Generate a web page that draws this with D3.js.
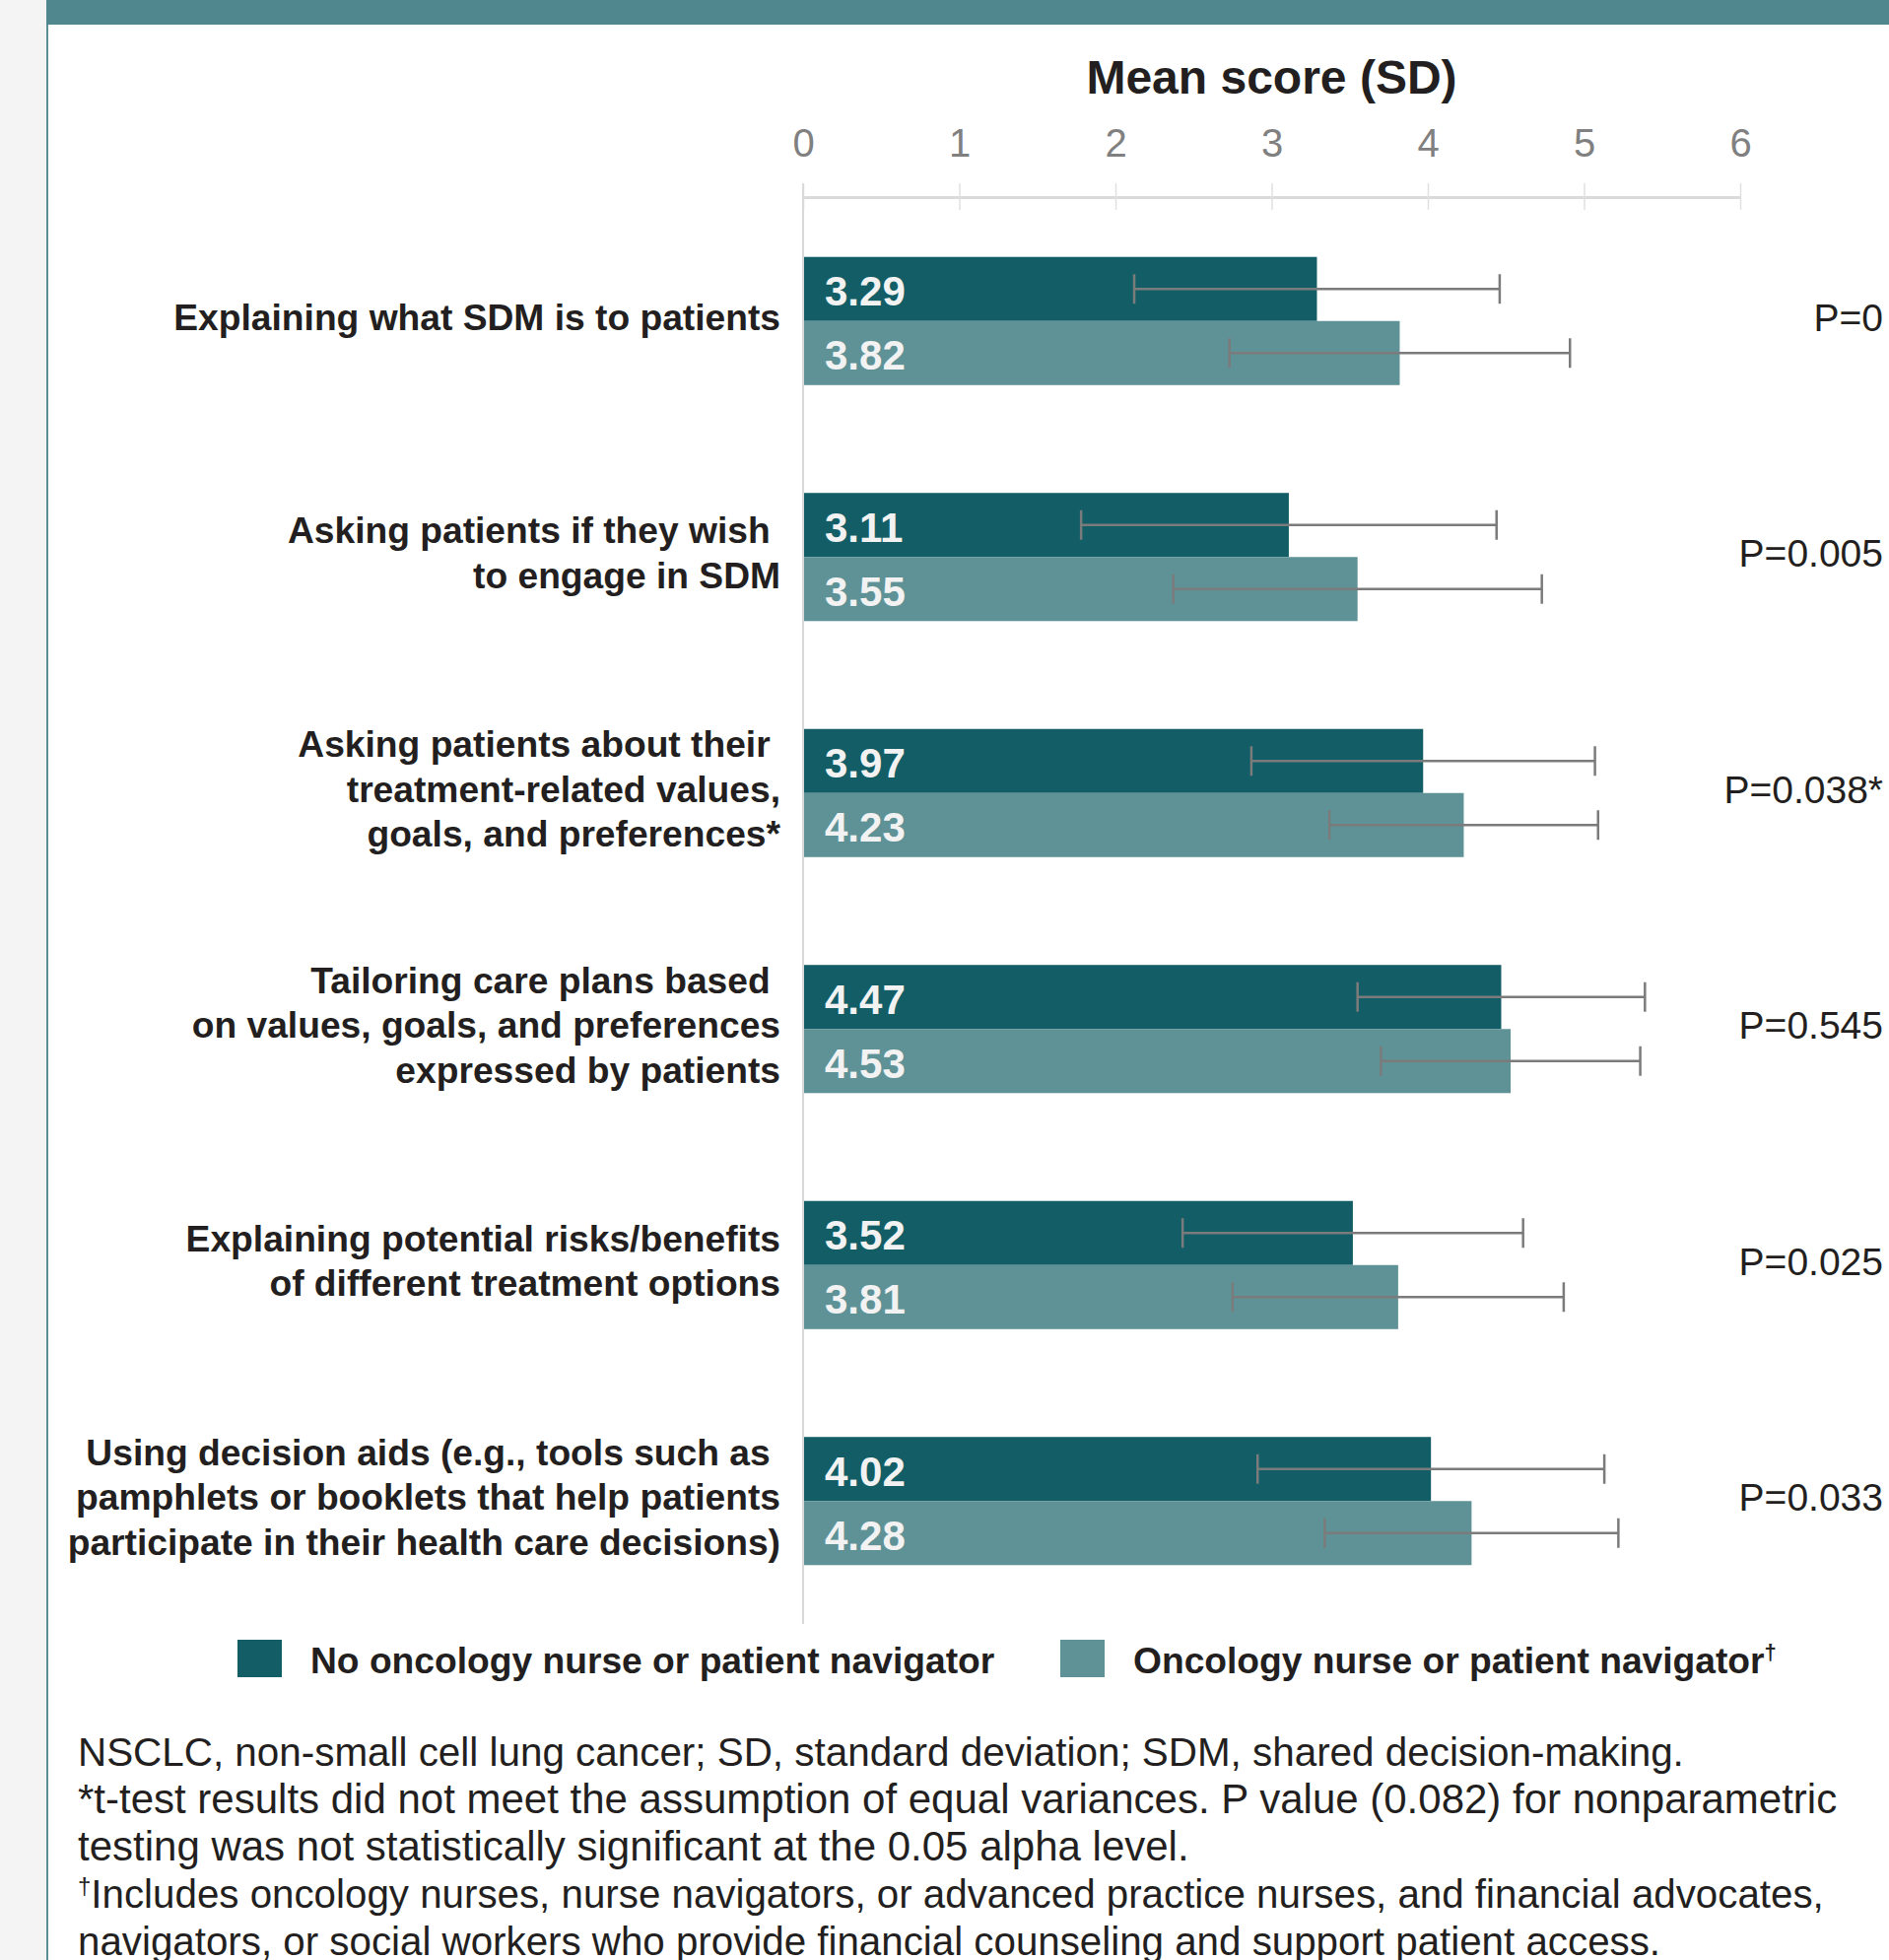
<!DOCTYPE html>
<meta charset="utf-8">
<style>
  body { margin: 0; background: #ffffff; }
  text { font-family: "Liberation Sans", Arial, Helvetica, sans-serif; }
</style>
<body>
<div id="chart"></div>
<script src="https://d3js.org/d3.v7.min.js"></script>
<script>

// Categories (one per row), the label is split in lines as in the figure
var categories = ["explain", "ask", "values", "tailor", "risks", "aids"];
var labelLines = [
  ["Explaining what SDM is to patients"],
  ["Asking patients if they wish\u00a0", "to engage in SDM"],
  ["Asking patients about their\u00a0", "treatment-related values,", "goals, and preferences*"],
  ["Tailoring care plans based\u00a0", "on values, goals, and preferences", "expressed by patients"],
  ["Explaining potential risks/benefits", "of different treatment options"],
  ["Using decision aids (e.g., tools such as\u00a0", "pamphlets or booklets that help patients", "participate in their health care decisions)"]
];

// Mean score and SD per series
var noNurseMean = [3.29, 3.11, 3.97, 4.47, 3.52, 4.02];
var noNurseSD   = [1.17, 1.33, 1.10, 0.92, 1.09, 1.11];
var nurseMean   = [3.82, 3.55, 4.23, 4.53, 3.81, 4.28];
var nurseSD     = [1.09, 1.18, 0.86, 0.83, 1.06, 0.94];

var pValues = ["P=0", "P=0.005", "P=0.038*", "P=0.545", "P=0.025", "P=0.033"];
var xTicks = [0, 1, 2, 3, 4, 5, 6];
var seriesNames = ["No oncology nurse or patient navigator", "Oncology nurse or patient navigator"];
var seriesColors = ["#135e66", "#5f9297"];

var footnotes = [
  "NSCLC, non-small cell lung cancer; SD, standard deviation; SDM, shared decision-making.",
  "*t-test results did not meet the assumption of equal variances. P value (0.082) for nonparametric",
  "testing was not statistically significant at the 0.05 alpha level.",
  "\u2020Includes oncology nurses, nurse navigators, or advanced practice nurses, and financial advocates,",
  "navigators, or social workers who provide financial counseling and support patient access."
];
var footnoteSizes = [40.4, 42, 42, 40.3, 40.3];

var W = 1917, H = 1989;
var ink = "#231f20";

var svg = d3.select("#chart")
  .append("svg")
    .attr("width", W)
    .attr("height", H);

// page frame: gray strip, teal border and top band
svg.append("rect").attr("x", 0).attr("y", 0).attr("width", 47).attr("height", H).attr("fill", "#f4f4f4");
svg.append("rect").attr("x", 47).attr("y", 0).attr("width", 2).attr("height", H).attr("fill", "#5b8f95");
svg.append("rect").attr("x", 47).attr("y", 0).attr("width", W - 47).attr("height", 25).attr("fill", "#50868d");

// scales
var x = d3.scaleLinear()
  .domain([0, 6])
  .range([815, 1766]);

var y = d3.scaleBand()
  .domain(categories)
  .range([206, 1643])
  .paddingInner(0.457)
  .paddingOuter(0.2285);

var ySub = d3.scaleBand()
  .domain([0, 1])
  .range([0, y.bandwidth()]);

// title
svg.append("text")
  .attr("x", (x(0) + x(6)) / 2)
  .attr("y", 95)
  .attr("text-anchor", "middle")
  .attr("font-size", 48)
  .attr("font-weight", "bold")
  .attr("fill", ink)
  .text("Mean score (SD)");

// top axis
var axis = svg.append("g")
  .attr("transform", "translate(0,200)")
  .call(d3.axisTop(x).tickValues(xTicks).tickFormat(d3.format("d"))
    .tickSizeOuter(0).tickSizeInner(0).tickPadding(41));
axis.select(".domain").attr("stroke", "#dadada").attr("stroke-width", 3);
axis.selectAll(".tick line").attr("y1", -14).attr("y2", 13).attr("stroke", "#e0e0e0").attr("stroke-width", 1.5);
axis.selectAll(".tick text")
  .attr("font-size", 40)
  .attr("font-family", "'Liberation Sans', Arial, sans-serif")
  .attr("fill", "#808080");

// vertical baseline at 0
svg.append("line")
  .attr("x1", x(0)).attr("x2", x(0))
  .attr("y1", 186).attr("y2", y.range()[1] + 5)
  .attr("stroke", "#dadada")
  .attr("stroke-width", 2);

// build rows
var rows = categories.map(function(c, i) {
  return {
    key: c,
    lines: labelLines[i],
    p: pValues[i],
    bars: [
      { s: 0, mean: noNurseMean[i], sd: noNurseSD[i] },
      { s: 1, mean: nurseMean[i], sd: nurseSD[i] }
    ]
  };
});

var row = svg.selectAll("g.row")
  .data(rows)
  .enter().append("g")
    .attr("class", "row")
    .attr("transform", function(d) { return "translate(0," + y(d.key) + ")"; });

var bar = row.selectAll("g.bar")
  .data(function(d) { return d.bars; })
  .enter().append("g")
    .attr("class", "bar");

bar.append("rect")
  .attr("x", x(0) + 1)
  .attr("y", function(d) { return ySub(d.s); })
  .attr("width", function(d) { return x(d.mean) - x(0) - 1; })
  .attr("height", ySub.bandwidth())
  .attr("fill", function(d) { return seriesColors[d.s]; });

bar.append("text")
  .attr("x", x(0) + 22)
  .attr("y", function(d) { return ySub(d.s) + ySub.bandwidth() / 2 + 17; })
  .attr("font-size", 42)
  .attr("font-weight", "bold")
  .attr("fill", "#f2f2f2")
  .text(function(d) { return d.mean.toFixed(2); });

// error bars
var errColor = "#7b7b7b";
bar.append("line")
  .attr("x1", function(d) { return x(d.mean - d.sd); })
  .attr("x2", function(d) { return x(d.mean + d.sd); })
  .attr("y1", function(d) { return ySub(d.s) + ySub.bandwidth() / 2; })
  .attr("y2", function(d) { return ySub(d.s) + ySub.bandwidth() / 2; })
  .attr("stroke", errColor)
  .attr("stroke-width", 2.5);
[-1, 1].forEach(function(side) {
  bar.append("line")
    .attr("x1", function(d) { return x(d.mean + side * d.sd); })
    .attr("x2", function(d) { return x(d.mean + side * d.sd); })
    .attr("y1", function(d) { return ySub(d.s) + ySub.bandwidth() / 2 - 15; })
    .attr("y2", function(d) { return ySub(d.s) + ySub.bandwidth() / 2 + 15; })
    .attr("stroke", errColor)
    .attr("stroke-width", 2.5);
});

// category labels
var lineH = 45.5;
row.append("text")
  .attr("text-anchor", "end")
  .attr("font-size", 37.2)
  .attr("font-weight", "bold")
  .attr("fill", ink)
  .attr("xml:space", "preserve")
  .each(function(d) {
    var t = d3.select(this);
    var n = d.lines.length;
    d.lines.forEach(function(l, k) {
      t.append("tspan")
        .attr("x", 792)
        .attr("y", y.bandwidth() / 2 - 4 + 13 + (k - (n - 1) / 2) * lineH)
        .text(l);
    });
  });

// p-values
row.append("text")
  .attr("x", 1911)
  .attr("y", y.bandwidth() / 2 - 4 + 14)
  .attr("text-anchor", "end")
  .attr("font-size", 39)
  .attr("fill", ink)
  .text(function(d) { return d.p; });

// legend
var legendX = [241, 1076];
var legend = svg.selectAll("g.legend")
  .data(seriesNames)
  .enter().append("g")
    .attr("class", "legend")
    .attr("transform", function(d, i) { return "translate(" + legendX[i] + ",1664)"; });

legend.append("rect")
  .attr("width", 45)
  .attr("height", 38)
  .attr("fill", function(d, i) { return seriesColors[i]; });

var legText = legend.append("text")
  .attr("x", 74)
  .attr("y", 34)
  .attr("font-size", 37.2)
  .attr("font-weight", "bold")
  .attr("fill", ink)
  .text(function(d) { return d; });
legText.filter(function(d, i) { return i === 1; })
  .append("tspan")
    .attr("font-size", 22)
    .attr("dy", -14)
    .text("\u2020");

// footnotes
var foot = svg.append("g");
footnotes.forEach(function(f, i) {
  var t = foot.append("text")
    .attr("x", 79)
    .attr("y", 1792 + i * 48)
    .attr("font-size", footnoteSizes[i])
    .attr("fill", ink);
  if (f.charAt(0) === "\u2020") {
    t.append("tspan").attr("font-size", 24).attr("dy", -14).text("\u2020");
    t.append("tspan").attr("dy", 14).text(f.slice(1));
  } else {
    t.text(f);
  }
});

</script>
</body>
